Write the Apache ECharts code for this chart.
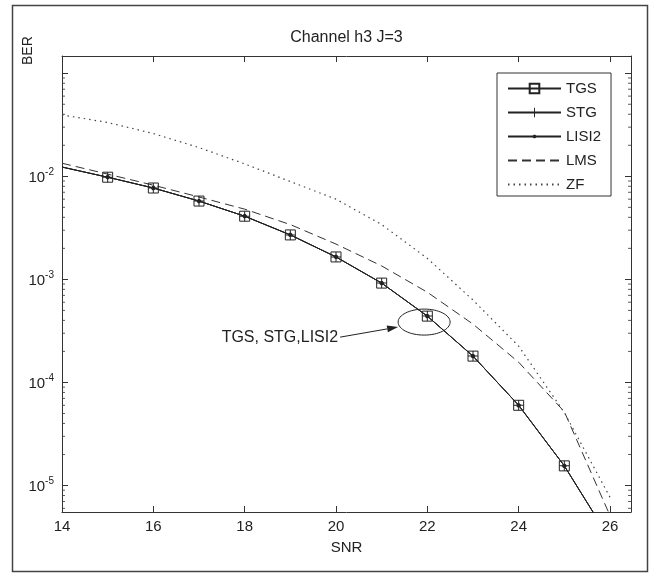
<!DOCTYPE html>
<html><head><meta charset="utf-8">
<script src="https://cdn.jsdelivr.net/npm/echarts@6/dist/echarts.min.js"></script>
<style>html,body{margin:0;padding:0;background:#fff}#chart{width:659px;height:579px}</style>
</head><body><div id="chart"></div>
<script>
// ---- data ----
const snr   = [14, 15, 16, 17, 18, 19, 20, 21, 22, 23, 24, 25, 26];
const tgs   = [1.23e-2, 9.8e-3, 7.7e-3, 5.75e-3, 4.1e-3, 2.7e-3, 1.65e-3, 9.2e-4, 4.4e-4, 1.8e-4, 6.0e-5, 1.55e-5, 3.0e-6];
const stg   = [1.23e-2, 9.8e-3, 7.7e-3, 5.75e-3, 4.1e-3, 2.7e-3, 1.65e-3, 9.2e-4, 4.4e-4, 1.8e-4, 6.0e-5, 1.55e-5, 3.0e-6];
const lisi2 = [1.23e-2, 9.8e-3, 7.7e-3, 5.75e-3, 4.1e-3, 2.7e-3, 1.65e-3, 9.2e-4, 4.4e-4, 1.8e-4, 6.0e-5, 1.55e-5, 3.0e-6];
const lms   = [1.34e-2, 1.05e-2, 8.2e-3, 6.3e-3, 4.8e-3, 3.4e-3, 2.2e-3, 1.35e-3, 7.5e-4, 3.68e-4, 1.57e-4, 5.2e-5, 5.1e-6];
const zf    = [3.94e-2, 3.33e-2, 2.6e-2, 1.9e-2, 1.32e-2, 8.9e-3, 6.0e-3, 3.4e-3, 1.6e-3, 6.3e-4, 2.25e-4, 5.1e-5, 7.7e-6];
const seriesNames = ['TGS', 'STG', 'LISI2', 'LMS', 'ZF'];
const xTickLabels = ['14', '16', '18', '20', '22', '24', '26'];
const yTickExponents = [-5, -4, -3, -2];
const minorMantissas = [2, 3, 4, 5, 6, 7, 8, 9];
const minorDecades = [-6, -5, -4, -3, -2, -1];
const annotationText = 'TGS, STG,LISI2';
const annotationCenter = [21.93, 3.85e-4];
const arrowTip = [21.36, 3.45e-4];
const arrowTail = [20.09, 2.75e-4];

const xMin = 14, xMax = 26.46, yMin = 5.53e-6, yMax = 0.147;
const FONT = '"Liberation Sans", Arial, Helvetica, sans-serif';
const INK = '#222';

const chart = echarts.init(document.getElementById('chart'));

function pairs(ys, hideFirstSymbol) {
  return snr.map((x, i) => (hideFirstSymbol && i === 0) ? { value: [x, ys[i]], symbol: 'none' } : [x, ys[i]]);
}
const minorVals = [];
minorDecades.forEach(d => minorMantissas.forEach(m => {
  const v = m * Math.pow(10, d);
  if (v > yMin && v < yMax) minorVals.push(v);
}));

const plusPath = 'path://M-1,-10 L1,-10 L1,10 L-1,10 Z M-10,-1 L10,-1 L10,1 L-10,1 Z';
// small dot inside a 20x20 box (tiny corner specks fix the box size)
const dotPath = 'path://M-10,-10 L-9.95,-10 L-10,-9.95 Z M10,10 L9.95,10 L10,9.95 Z ' +
  'M-1.5,-3.6 L1.5,-3.6 L3.6,-1.5 L3.6,1.5 L1.5,3.6 L-1.5,3.6 L-3.6,1.5 L-3.6,-1.5 Z';
const noMarkPath = 'path://M0,0 L0.001,0 L0,0.001 Z';

const solidLine = { color: INK, width: 1, type: 'solid' };

const option = {
  animation: false,
  backgroundColor: '#fff',
  title: {
    text: 'Channel h3 J=3', left: 346.5, top: 30, textAlign: 'center', padding: 0,
    textStyle: { fontFamily: FONT, fontSize: 16, fontWeight: 'normal', color: INK }
  },
  legend: {
    data: seriesNames, orient: 'vertical', left: 497, top: 73,
    itemWidth: 53, itemHeight: 12, itemGap: 9, padding: [8, 10, 4, 10],
    borderColor: '#333', borderWidth: 1, backgroundColor: '#fff', selectedMode: false,
    textStyle: { fontFamily: FONT, fontSize: 15, color: INK }
  },
  grid: { left: 62, top: 56, right: 28, bottom: 67, containLabel: false },
  xAxis: [{
    type: 'value', min: xMin, max: xMax, interval: 2,
    name: 'SNR', nameLocation: 'middle', nameGap: 28,
    nameTextStyle: { fontFamily: FONT, fontSize: 15, color: INK },
    axisLine: { lineStyle: { color: '#333', width: 1 } },
    axisTick: { inside: true, length: 6, lineStyle: { color: '#333' } },
    splitLine: { show: false },
    axisLabel: {
      margin: 7, fontFamily: FONT, fontSize: 15, color: INK, showMaxLabel: false,
      formatter: v => xTickLabels.indexOf(String(v)) >= 0 ? String(v) : ''
    }
  }, {
    type: 'value', min: xMin, max: xMax, interval: 2, position: 'top',
    axisLine: { lineStyle: { color: '#333', width: 1 } },
    axisTick: { inside: true, length: 6, lineStyle: { color: '#333' } },
    axisLabel: { show: false }, splitLine: { show: false }
  }],
  yAxis: [{
    type: 'log', logBase: 10, min: yMin, max: yMax,
    axisLine: { lineStyle: { color: '#333', width: 1 } },
    axisTick: { inside: true, length: 6, lineStyle: { color: '#333' } },
    splitLine: { show: false },
    axisLabel: {
      margin: 8, color: INK, showMinLabel: false, showMaxLabel: false,
      formatter: v => {
        const e = Math.round(Math.log10(v));
        if (Math.abs(Math.log10(v) - e) > 1e-6 || yTickExponents.indexOf(e) < 0) return '';
        return '{b|10}{s|' + e + '}';
      },
      rich: {
        b: { fontFamily: FONT, fontSize: 15, color: INK, verticalAlign: 'bottom' },
        s: { fontFamily: FONT, fontSize: 10, color: INK, verticalAlign: 'bottom', padding: [0, 0, 8, 0] }
      }
    }
  }, {
    type: 'log', logBase: 10, min: yMin, max: yMax, position: 'right',
    axisLine: { lineStyle: { color: '#333', width: 1 } },
    axisTick: { inside: true, length: 6, lineStyle: { color: '#333' } },
    axisLabel: { show: false }, splitLine: { show: false }
  }],
  series: [
    { name: 'minorL', type: 'scatter', silent: true, data: minorVals.map(v => [xMin, v]),
      symbol: 'rect', symbolSize: [3, 1], symbolOffset: [1.5, 0], itemStyle: { color: '#333' }, z: 1 },
    { name: 'minorR', type: 'scatter', silent: true, data: minorVals.map(v => [xMax, v]),
      symbol: 'rect', symbolSize: [3, 1], symbolOffset: [-1.5, 0], itemStyle: { color: '#333' }, z: 1 },
    { name: 'TGS', type: 'line', data: pairs(tgs, true), symbol: 'rect', symbolSize: 10, showAllSymbol: true,
      lineStyle: solidLine, itemStyle: { color: 'rgba(0,0,0,0)', borderColor: INK, borderWidth: 1 }, z: 3 },
    { name: 'STG', type: 'line', data: pairs(stg, true), symbol: plusPath, symbolSize: 10, showAllSymbol: true,
      lineStyle: solidLine, itemStyle: { color: INK, borderWidth: 0 }, z: 4 },
    { name: 'LISI2', type: 'line', data: pairs(lisi2, true), symbol: dotPath, symbolSize: 12, showAllSymbol: true,
      lineStyle: solidLine, itemStyle: { color: INK, borderWidth: 0 }, z: 5 },
    { name: 'LMS', type: 'line', data: pairs(lms, false), symbol: noMarkPath, showSymbol: false,
      lineStyle: { color: '#333', width: 1, type: [9, 5] }, itemStyle: { color: 'rgba(0,0,0,0)', borderWidth: 0 }, z: 2 },
    { name: 'ZF', type: 'line', data: pairs(zf, false), symbol: noMarkPath, showSymbol: false,
      lineStyle: { color: '#444', width: 1.2, type: [1.5, 4] }, itemStyle: { color: 'rgba(0,0,0,0)', borderWidth: 0 }, z: 2 }
  ]
};
chart.setOption(option);

// annotation placed through the chart's own scales
const c = chart.convertToPixel({ gridIndex: 0 }, annotationCenter);
const tip = chart.convertToPixel({ gridIndex: 0 }, arrowTip);
const tail = chart.convertToPixel({ gridIndex: 0 }, arrowTail);
const dx = tip[0] - tail[0], dy = tip[1] - tail[1], L = Math.hypot(dx, dy);
const ux = dx / L, uy = dy / L, hl = 11, hw = 3.5;
const base = [tip[0] - ux * hl, tip[1] - uy * hl];
chart.setOption({
  graphic: [
    { type: 'rect', shape: { x: 12.5, y: 5.5, width: 635, height: 566 }, style: { fill: 'none', stroke: '#444', lineWidth: 1.5 }, silent: true, z: 0 },
    { type: 'text', x: 28, y: 65, rotation: Math.PI / 2, style: { text: 'BER', fontFamily: FONT, fontSize: 14, fill: INK, align: 'left', verticalAlign: 'middle' }, z: 10 },
    { type: 'ellipse', shape: { cx: c[0], cy: c[1], rx: 26, ry: 13 }, style: { fill: 'none', stroke: INK, lineWidth: 1 }, z: 10 },
    { type: 'line', shape: { x1: tail[0], y1: tail[1], x2: base[0], y2: base[1] }, style: { stroke: INK, lineWidth: 1 }, z: 10 },
    { type: 'polygon', shape: { points: [tip, [base[0] - uy * hw, base[1] + ux * hw], [base[0] + uy * hw, base[1] - ux * hw]] }, style: { fill: INK }, z: 10 },
    { type: 'text', x: tail[0] - 2, y: tail[1], style: { text: annotationText, fontFamily: FONT, fontSize: 16, fill: INK, align: 'right', verticalAlign: 'middle' }, z: 10 }
  ]
});
</script>
</body></html>
